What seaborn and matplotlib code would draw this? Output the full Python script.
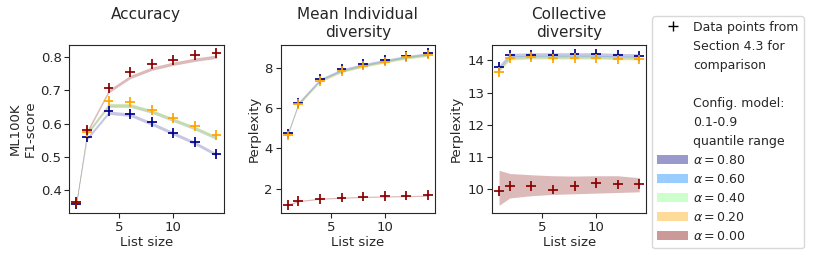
import pandas as pd
import matplotlib
matplotlib.use("Agg")
import matplotlib.pyplot as plt
from matplotlib.lines import Line2D
from matplotlib.patches import Patch
import seaborn as sns

# List sizes
list_sizes = [1, 2, 4, 6, 8, 10, 12, 14]

# Data points from Section 4.3 (alpha = 0.8, 0.2, 0.0)
acc_pts_08 = [0.360, 0.560, 0.637, 0.629, 0.604, 0.572, 0.544, 0.509]
acc_pts_02 = [0.366, 0.576, 0.668, 0.666, 0.642, 0.616, 0.592, 0.567]
acc_pts_00 = [0.365, 0.580, 0.708, 0.755, 0.779, 0.792, 0.805, 0.813]

ind_pts_08 = [4.74, 6.27, 7.44, 7.93, 8.18, 8.39, 8.59, 8.73]
ind_pts_02 = [4.64, 6.21, 7.35, 7.85, 8.11, 8.31, 8.53, 8.66]
ind_pts_00 = [1.18, 1.37, 1.50, 1.56, 1.61, 1.63, 1.66, 1.68]

col_pts_08 = [13.80, 14.16, 14.18, 14.18, 14.19, 14.19, 14.16, 14.15]
col_pts_02 = [13.64, 14.07, 14.10, 14.06, 14.08, 14.06, 14.03, 14.03]
col_pts_00 = [9.94, 10.11, 10.09, 9.99, 10.11, 10.19, 10.15, 10.17]

# Config. model 0.1-0.9 quantile ranges
acc_lo_08 = [0.355, 0.550, 0.628, 0.622, 0.595, 0.566, 0.537, 0.502]
acc_hi_08 = [0.365, 0.560, 0.638, 0.632, 0.605, 0.576, 0.547, 0.512]
acc_lo_06 = [0.356, 0.565, 0.649, 0.649, 0.631, 0.606, 0.581, 0.552]
acc_hi_06 = [0.366, 0.575, 0.659, 0.659, 0.641, 0.616, 0.591, 0.562]
acc_lo_04 = [0.357, 0.567, 0.651, 0.651, 0.633, 0.608, 0.583, 0.554]
acc_hi_04 = [0.367, 0.577, 0.661, 0.661, 0.643, 0.618, 0.593, 0.564]
acc_lo_02 = [0.357, 0.566, 0.650, 0.650, 0.632, 0.607, 0.582, 0.553]
acc_hi_02 = [0.367, 0.576, 0.660, 0.660, 0.642, 0.617, 0.592, 0.563]
acc_lo_00 = [0.357, 0.570, 0.692, 0.735, 0.760, 0.775, 0.787, 0.796]
acc_hi_00 = [0.367, 0.580, 0.702, 0.745, 0.770, 0.785, 0.797, 0.806]

ind_lo_08 = [4.66, 6.19, 7.36, 7.84, 8.09, 8.31, 8.50, 8.64]
ind_hi_08 = [4.79, 6.31, 7.47, 7.95, 8.21, 8.42, 8.61, 8.75]
ind_lo_06 = [4.61, 6.14, 7.31, 7.79, 8.05, 8.26, 8.46, 8.59]
ind_hi_06 = [4.73, 6.26, 7.42, 7.90, 8.16, 8.37, 8.57, 8.70]
ind_lo_04 = [4.59, 6.12, 7.29, 7.77, 8.03, 8.24, 8.44, 8.57]
ind_hi_04 = [4.71, 6.24, 7.40, 7.88, 8.14, 8.35, 8.55, 8.68]
ind_lo_02 = [4.58, 6.11, 7.28, 7.76, 8.02, 8.23, 8.43, 8.56]
ind_hi_02 = [4.70, 6.23, 7.39, 7.87, 8.13, 8.34, 8.54, 8.67]
ind_lo_00 = [1.17, 1.35, 1.47, 1.52, 1.56, 1.58, 1.60, 1.62]
ind_hi_00 = [1.23, 1.41, 1.53, 1.58, 1.62, 1.64, 1.66, 1.68]

col_lo_08 = [13.75, 14.11, 14.13, 14.13, 14.13, 14.13, 14.11, 14.10]
col_hi_08 = [13.85, 14.22, 14.24, 14.24, 14.24, 14.24, 14.22, 14.21]
col_lo_06 = [13.68, 14.04, 14.07, 14.07, 14.07, 14.07, 14.05, 14.04]
col_hi_06 = [13.78, 14.14, 14.16, 14.16, 14.16, 14.16, 14.14, 14.13]
col_lo_04 = [13.66, 14.02, 14.05, 14.05, 14.05, 14.05, 14.03, 14.02]
col_hi_04 = [13.76, 14.12, 14.14, 14.14, 14.14, 14.14, 14.12, 14.11]
col_lo_02 = [13.65, 14.01, 14.04, 14.04, 14.04, 14.04, 14.02, 14.01]
col_hi_02 = [13.75, 14.11, 14.13, 14.13, 14.13, 14.13, 14.11, 14.10]
col_lo_00 = [9.50, 9.73, 9.80, 9.84, 9.86, 9.88, 9.90, 9.92]
col_hi_00 = [10.59, 10.49, 10.45, 10.42, 10.41, 10.42, 10.42, 10.36]

alpha_levels = [0.8, 0.6, 0.4, 0.2, 0.0]
band_colors = {0.8: "#000080", 0.6: "#0080ff", 0.4: "#80ff80",
               0.2: "#ffa500", 0.0: "#800000"}
point_colors = {0.8: "#00008b", 0.2: "#ffa500", 0.0: "#8b0000"}

panel_titles = ["Accuracy\n", "Mean Individual\ndiversity", "Collective\ndiversity"]
panel_ylabels = ["ML100K\nF1-score", "Perplexity", "Perplexity"]

panel_points = [
    {0.8: acc_pts_08, 0.2: acc_pts_02, 0.0: acc_pts_00},
    {0.8: ind_pts_08, 0.2: ind_pts_02, 0.0: ind_pts_00},
    {0.8: col_pts_08, 0.2: col_pts_02, 0.0: col_pts_00},
]
panel_bands = [
    {0.8: (acc_lo_08, acc_hi_08), 0.6: (acc_lo_06, acc_hi_06), 0.4: (acc_lo_04, acc_hi_04),
     0.2: (acc_lo_02, acc_hi_02), 0.0: (acc_lo_00, acc_hi_00)},
    {0.8: (ind_lo_08, ind_hi_08), 0.6: (ind_lo_06, ind_hi_06), 0.4: (ind_lo_04, ind_hi_04),
     0.2: (ind_lo_02, ind_hi_02), 0.0: (ind_lo_00, ind_hi_00)},
    {0.8: (col_lo_08, col_hi_08), 0.6: (col_lo_06, col_hi_06), 0.4: (col_lo_04, col_hi_04),
     0.2: (col_lo_02, col_hi_02), 0.0: (col_lo_00, col_hi_00)},
]

# Style
sns.set_style("ticks", rc={"axes.edgecolor": "0.15", "axes.linewidth": 1.0,
                           "xtick.color": "0.15", "ytick.color": "0.15"})
plt.rcParams['font.family'] = ['DejaVu Sans']

fig, axes = plt.subplots(1, 3, figsize=(8.14, 2.62), dpi=100)
fig.subplots_adjust(left=0.085, right=0.794, bottom=0.187, top=0.828, wspace=0.37)

for ax, title, ylabel, pts, bands in zip(axes, panel_titles, panel_ylabels,
                                          panel_points, panel_bands):
    # quantile bands
    for a in alpha_levels:
        lo, hi = bands[a]
        ax.fill_between(list_sizes, lo, hi, color=band_colors[a],
                        alpha=0.27 if a == 0.0 else 0.22, linewidth=0)

    df = pd.DataFrame([
        {"x": x, "y": y, "alpha": a}
        for a in [0.8, 0.2, 0.0] for x, y in zip(list_sizes, pts[a])
    ])
    sns.scatterplot(data=df, x="x", y="y", hue="alpha", palette=point_colors,
                    hue_order=[0.8, 0.2, 0.0], marker="+", s=50, linewidth=1.25,
                    legend=False, ax=ax)

    ax.set_title(title, fontsize=11, pad=6)
    ax.set_xlabel("List size", fontsize=9.5, labelpad=2)
    ax.set_ylabel(ylabel, fontsize=9.5, labelpad=3)
    ax.set_xticks([5, 10])
    ax.tick_params(labelsize=9.5, length=3.5, pad=2)

# Legend
handles = [Line2D([], [], marker="+", color="black", linestyle="none", markersize=6.5)]
labels = ["Data points from"]
for txt in ["Section 4.3 for", "comparison", "", "Config. model:", "0.1-0.9", "quantile range"]:
    handles.append(Line2D([], [], color="none"))
    labels.append(txt)
for a in alpha_levels:
    handles.append(Patch(facecolor=band_colors[a], alpha=0.4, edgecolor="none"))
    labels.append(r"$\alpha = %.2f$" % a)

fig.legend(handles, labels, loc="upper left", bbox_to_anchor=(652 / 814, 1 - 16 / 262),
           borderaxespad=0, fontsize=9, handlelength=2.5, handleheight=0.8,
           handletextpad=0.4, labelspacing=0.48, borderpad=0.4, frameon=True,
           edgecolor="0.85", framealpha=1)

plt.savefig("out.png", dpi=100)
